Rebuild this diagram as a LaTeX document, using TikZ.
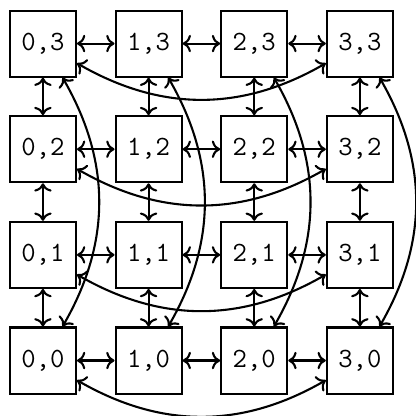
\documentclass[tikz,border=0pt]{standalone}
\usetikzlibrary{arrows.meta}
\tikzset{
  cellbox/.style={draw, line width=0.9pt, minimum size=1cm, inner sep=0pt, font=\ttfamily\large},
  linkarrow/.style={<->, line width=0.9pt},
  wraprow/.style={linkarrow, bend right=30},
  wrapcol/.style={linkarrow, bend left=30}
}
\begin{document}
\begin{tikzpicture}
  \useasboundingbox (-0.65,-0.84) rectangle (5.65,5.46);
  \foreach \i in {0,...,3}
    \foreach \j in {0,...,3}
      \node[cellbox] (cell\i\j) at (1.6*\i,1.6*\j) {\i,\j};
  % neighbour links
  \foreach \i/\k in {0/1,1/2,2/3}
    \foreach \j in {0,...,3} {
      \draw[linkarrow] (cell\i\j) -- (cell\k\j);
      \draw[linkarrow] (cell\j\i) -- (cell\j\k);
    }
  % wrap-around links
  \foreach \j in {0,...,3} {
    \draw[wraprow] (cell0\j) to (cell3\j);
    \draw[wrapcol] (cell\j3) to (cell\j0);
  }
\end{tikzpicture}
\end{document}
